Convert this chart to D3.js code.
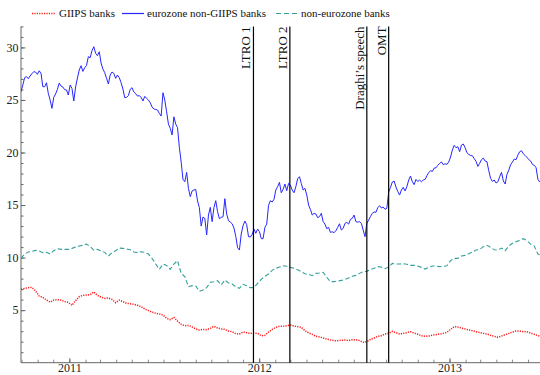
<!DOCTYPE html>
<html><head><meta charset="utf-8">
<script src="https://cdn.jsdelivr.net/npm/d3@7"></script>
<style>body{margin:0;background:#fff}svg{display:block}text{font-family:"Liberation Serif","Times New Roman",serif}</style>
</head><body><svg id="c" width="540" height="375"></svg>
<script>
const startDate = "2010-09-30";
const stepDays = 7;          // red & teal series: weekly readings
const blueStepHours = 84;    // blue series: half-weekly readings
const giipsBanks = [
6.98,7.07,7.14,7.17,6.82,6.34,6.22,5.96,5.77,5.96,
6.0,5.96,5.81,5.74,5.46,5.9,6.28,6.41,6.44,6.47,
6.73,6.41,6.25,6.12,6.15,6.03,5.71,5.96,5.81,5.65,
5.61,5.55,5.46,5.33,5.11,4.95,4.82,4.7,4.63,4.54,
4.22,4.09,4.31,3.96,3.65,3.52,3.55,3.4,3.21,3.11,
3.17,3.14,3.27,3.46,3.3,3.21,3.17,3.01,2.95,2.76,
2.73,2.92,2.86,2.79,2.83,2.79,2.57,2.6,2.92,3.17,
3.36,3.46,3.46,3.52,3.59,3.49,3.43,3.36,3.05,2.83,
2.7,2.51,2.45,2.35,2.25,2.16,2.1,2.1,2.13,2.16,
2.1,2.19,2.19,2.1,1.94,2.0,2.22,2.35,2.51,2.57,
2.73,2.79,2.98,2.86,2.73,2.79,2.86,2.95,2.82,2.7,
2.57,2.51,2.54,2.63,2.67,2.73,2.79,2.89,3.17,3.43,
3.4,3.3,3.21,3.11,3.05,2.95,2.86,2.79,2.73,2.6,
2.51,2.41,2.54,2.67,2.79,2.92,3.01,3.01,2.95,2.95,
2.82,2.7,2.57,2.5];
const eurozoneNonGiips = [
25.79,26.42,27.12,27.22,27.02,27.28,27.5,27.69,27.66,27.44,
27.78,27.53,26.26,26.26,26.64,25.63,24.99,24.2,25.25,25.57,
26.01,26.61,26.33,26.23,25.98,25.95,25.47,26.42,26.1,24.9,
26.23,27.09,27.85,28.26,27.72,28.07,28.29,29.12,29.02,29.69,
30.07,29.44,29.21,29.59,28.51,27.94,27.6,27.06,26.52,27.37,
27.66,27.53,27.06,27.37,27.12,26.64,26.04,25.22,25.25,25.41,
26.01,26.17,25.76,25.6,25.37,25.41,25.25,24.9,25.34,25.15,
24.99,24.74,24.33,24.14,24.1,24.04,23.72,23.47,25.69,24.99,
23.88,22.71,22.3,21.67,23.4,22.71,22.36,20.5,19.09,17.44,
17.22,18.11,16.59,15.8,16.34,16.43,16.49,15.39,14.75,13.0,
13.86,13.73,12.15,14.05,14.78,13.42,14.75,15.42,14.37,13.7,
13.83,13.89,15.61,14.15,13.51,13.38,13.22,12.82,12.02,10.95,
10.72,12.25,13.04,13.48,13.13,11.99,11.96,12.21,12.72,12.31,
12.72,12.47,11.8,11.8,12.88,13.19,14.97,15.42,15.29,15.54,
16.43,16.75,17.16,16.17,16.49,17.0,16.37,17.06,16.9,16.43,
16.17,16.75,17.51,17.7,17.06,16.43,16.59,15.96,15.0,14.59,
14.05,14.21,14.15,13.8,13.9,14.21,13.42,13.19,12.75,12.88,
12.4,12.46,12.37,12.56,12.88,13.22,12.62,12.78,13.26,13.35,
13.19,13.64,13.73,14.05,13.42,13.38,13.42,13.26,12.62,11.99,
13.26,13.57,13.9,14.21,14.34,14.31,14.75,14.94,14.72,14.81,
14.6,14.69,16.24,16.69,17.19,17.29,16.72,16.3,15.95,16.43,
16.69,16.34,16.75,17.38,17.76,17.22,16.94,17.44,17.25,17.38,
17.22,17.38,17.44,17.79,18.08,18.27,18.2,18.52,18.55,18.78,
18.97,19.1,18.84,18.93,18.87,19.1,19.57,20.24,20.68,20.46,
20.55,20.08,20.71,20.81,20.46,19.98,19.82,19.72,19.69,19.41,
19.16,18.68,18.97,19.32,19.47,19.19,19.12,18.27,17.54,17.25,
17.38,17.1,17.22,17.7,18.11,17.29,17.0,17.92,18.33,18.84,
19.09,19.38,19.32,19.76,20.08,20.17,19.88,19.72,19.54,19.32,
19.19,18.87,18.78,18.55,17.44,17.19];
const nonEurozone = [
9.93,10.34,10.53,10.59,10.69,10.63,10.47,10.5,10.34,10.66,
10.85,10.78,10.78,10.78,10.88,11.01,11.1,11.17,11.29,11.04,
10.72,10.78,10.63,10.5,10.15,10.47,10.66,10.91,10.88,10.82,
10.75,10.53,10.47,10.56,10.5,10.34,9.93,9.39,8.88,9.39,
9.26,8.88,9.39,9.71,8.5,8.19,7.23,7.33,7.3,6.79,
6.92,7.14,7.65,7.71,7.8,7.39,7.87,7.58,7.49,7.23,
7.08,7.46,7.33,7.14,7.14,7.55,7.93,8.22,8.44,8.79,
8.98,9.1,9.23,9.17,9.07,8.98,8.85,8.66,8.47,8.41,
8.28,8.5,8.53,8.6,8.12,7.71,7.71,7.77,7.83,7.93,
8.06,8.22,8.31,8.5,8.66,8.69,8.85,8.98,9.14,9.1,
8.95,9.1,9.45,9.39,9.39,9.42,9.36,9.26,9.26,9.2,
9.07,8.91,9.07,9.2,9.2,9.14,9.17,9.23,9.71,9.93,
9.93,10.15,10.21,10.37,10.53,10.72,10.78,11.04,11.17,10.97,
10.75,10.72,10.91,10.66,11.1,11.36,11.52,11.64,11.8,11.61,
11.29,11.1,10.34,10.2];
const seriesNames = ["GIIPS banks","eurozone non-GIIPS banks","non-eurozone banks"];
const seriesColors = ["#ff1a1a","#2626ff","#33a09a"];
const eventDates = ["2011-12-21","2012-02-29","2012-07-26","2012-09-06"];
const eventLabels = ["LTRO 1","LTRO 2","Draghi\u2019s speech","OMT"];
const yTicks = [5,10,15,20,25,30];
const xDomain = ["2010-09-30","2013-06-24"];
const yDomain = [0,32];

const parse = d3.timeParse("%Y-%m-%d");
const svg = d3.select("#c");
const L = 21, R = 540, T = 26.4, B = 362.7;
const x = d3.scaleTime().domain(xDomain.map(parse)).range([L, R]);
const y = d3.scaleLinear().domain(yDomain).range([B, T]);
const t0 = parse(startDate);
const weekDates = giipsBanks.map((_, i) => d3.timeDay.offset(t0, i * stepDays));
const blueDates = eurozoneNonGiips.map((_, i) => d3.timeHour.offset(t0, i * blueStepHours));

svg.append("clipPath").attr("id","clip").append("rect")
  .attr("x", L).attr("y", 0).attr("width", R - L).attr("height", B);

const axisColor = "#666";
const serif = '"Liberation Serif","Times New Roman",serif';
// y axis
const gy = svg.append("g").attr("transform", `translate(${L},0)`);
gy.call(d3.axisLeft(y).tickValues(d3.range(1,33)).tickSize(-2.5).tickFormat(""));
gy.select(".domain").remove();
gy.selectAll(".tick line").attr("stroke", axisColor);
const gy2 = svg.append("g").attr("transform", `translate(${L},0)`);
gy2.call(d3.axisLeft(y).tickValues(yTicks).tickSize(-4.5).tickPadding(2.5));
gy2.attr("font-family", serif).attr("font-size", 12);
gy2.select(".domain").remove();
gy2.selectAll(".tick line").attr("stroke", axisColor);
gy2.selectAll(".tick text").attr("fill", "#222");
svg.append("line").attr("x1", L).attr("x2", L).attr("y1", T).attr("y2", B)
  .attr("stroke", axisColor).attr("stroke-width", 1);

// x axis
const gx = svg.append("g").attr("transform", `translate(0,${B})`);
gx.call(d3.axisBottom(x).ticks(d3.timeMonth.every(1)).tickSize(-3).tickFormat(""));
gx.select(".domain").remove();
gx.selectAll(".tick line").attr("stroke", "#888");
const gx2 = svg.append("g").attr("transform", `translate(0,${B})`);
gx2.call(d3.axisBottom(x).ticks(d3.timeYear.every(1)).tickSize(-4.5)
  .tickFormat(d3.timeFormat("%Y")));
gx2.attr("font-family", serif).attr("font-size", 12);
gx2.select(".domain").remove();
gx2.selectAll(".tick line").attr("stroke", "#666");
gx2.selectAll(".tick text").attr("fill", "#222").attr("dy", null).attr("y", 9.6);
svg.append("line").attr("x1", L).attr("x2", R).attr("y1", B).attr("y2", B)
  .attr("stroke", axisColor).attr("stroke-width", 1);

// series
const lineW = d3.line().x((d, i) => x(weekDates[i])).y(d => y(d));
const lineB = d3.line().x((d, i) => x(blueDates[i])).y(d => y(d));
const plot = svg.append("g").attr("clip-path", "url(#clip)");
plot.append("path").datum(nonEurozone).attr("d", lineW).attr("fill", "none")
  .attr("stroke", seriesColors[2]).attr("stroke-width", 1.1).attr("stroke-dasharray", "4.5,2.5");
plot.append("path").datum(giipsBanks).attr("d", lineW).attr("fill", "none")
  .attr("stroke", seriesColors[0]).attr("stroke-width", 1.5).attr("stroke-dasharray", "1.2,1.2");
plot.append("path").datum(eurozoneNonGiips).attr("d", lineB).attr("fill", "none")
  .attr("stroke", seriesColors[1]).attr("stroke-width", 1);

// events
eventDates.forEach((d, i) => {
  const ex = x(parse(d));
  svg.append("line").attr("x1", ex).attr("x2", ex).attr("y1", T).attr("y2", B)
    .attr("stroke", "#000").attr("stroke-width", 1.2);
  svg.append("text").attr("transform", `translate(${ex - 3},${T}) rotate(-90)`)
    .attr("text-anchor", "end").attr("font-size", 13).attr("fill", "#111")
    .text(eventLabels[i]);
});

// legend
const legendX = [32, 122, 276];
const legendW = [24, 22, 22];
const dashes = ["1.2,1.2", null, "5,3"];
const widths = [1.5, 1.2, 1.2];
seriesNames.forEach((n, i) => {
  const ly = 13.5;
  const l = svg.append("line").attr("x1", legendX[i]).attr("x2", legendX[i] + legendW[i])
    .attr("y1", ly).attr("y2", ly).attr("stroke", seriesColors[i]).attr("stroke-width", widths[i]);
  if (dashes[i]) l.attr("stroke-dasharray", dashes[i]);
  svg.append("text").attr("x", legendX[i] + legendW[i] + 3).attr("y", 17)
    .attr("font-size", 11).attr("fill", "#111").text(n);
});
</script></body></html>
